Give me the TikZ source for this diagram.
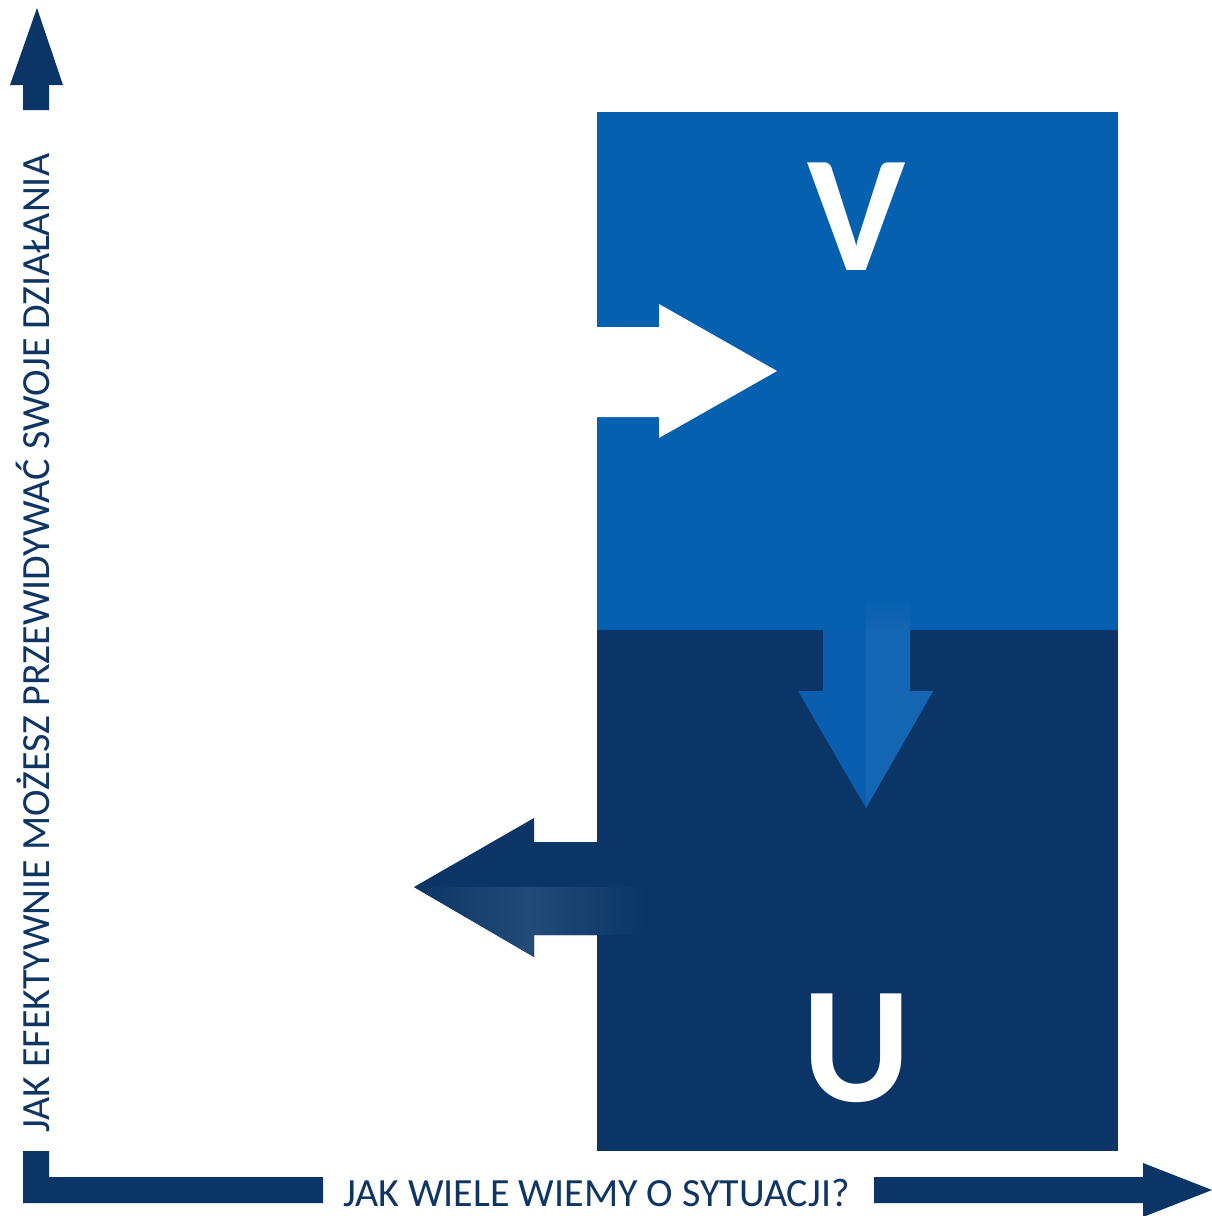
\documentclass[tikz,border=0pt]{standalone}
\usepackage{fontspec}
\setmainfont{Carlito}
\usetikzlibrary{fadings}
\definecolor{navyc}{HTML}{0B3566}
\definecolor{bluec}{HTML}{0560B0}
\definecolor{blueleft}{HTML}{0A5EAF}
\definecolor{blueright}{HTML}{1566B2}
\definecolor{lightnavy}{HTML}{234A78}
\definecolor{textc}{HTML}{0E3563}
\tikzset{
  axisshape/.style={fill=navyc},
  axislabel/.style={text=textc, inner sep=0pt},
  bigletter/.style={text=white, inner sep=0pt, font=\bfseries\fontsize{166}{166}\selectfont},
}
\begin{document}
\begin{tikzpicture}[x=1pt,y=-1pt]
\useasboundingbox (0,0) rectangle (1212,1216);
\fill[white] (0,0) rectangle (1212,1216);

% blocks
\fill[bluec] (597,112) rectangle (1118,630);
\fill[navyc] (597,630) rectangle (1118,1151);

% white arrow into V
\fill[white] (597,327) -- (659,327) -- (659,304) -- (777,371) -- (659,438) -- (659,417) -- (597,417) -- cycle;

% down arrow
\fill[blueleft] (823,630) -- (910,630) -- (910,691) -- (933,691) -- (866,808) -- (798,691) -- (823,691) -- cycle;
\fill[blueright] (866,630) -- (910,630) -- (910,691) -- (933,691) -- (866,808) -- cycle;
\fill[blueright, path fading=north] (866,595) rectangle (910,630);

% left arrow
\fill[navyc] (414,887) -- (534,818) -- (534,842) -- (635,842) -- (635,935) -- (534,935) -- (534,957) -- cycle;
\shade[left color=navyc, right color=navyc, middle color=lightnavy] (414,887) -- (645,887) -- (645,935) -- (534,935) -- (534,957) -- cycle;

% letters
\node[bigletter, anchor=base] (V) at (857,270) {V};
\node[bigletter, anchor=base] (U) at (857,1101) {U};

% axes
\fill[axisshape] (23,110) -- (23,85) -- (10,85) -- (37,8) -- (63,85) -- (49,85) -- (49,110) -- cycle;
\fill[axisshape] (23,1151) -- (49,1151) -- (49,1177) -- (323,1177) -- (323,1203) -- (23,1203) -- cycle;
\fill[axisshape] (874,1177) -- (1143,1177) -- (1143,1163) -- (1212,1190) -- (1143,1217) -- (1143,1203) -- (874,1203) -- cycle;

% axis labels
\node[axislabel, anchor=base west, font=\fontsize{40}{40}\selectfont] (xl) at (343,1206) {JAK WIELE WIEMY O SYTUACJI?};
\node[axislabel, anchor=base west, rotate=90, font=\fontsize{40}{40}\selectfont] (yl) at (49,1133) {JAK EFEKTYWNIE MOŻESZ PRZEWIDYWAĆ SWOJE DZIAŁANIA};
\end{tikzpicture}
\end{document}
